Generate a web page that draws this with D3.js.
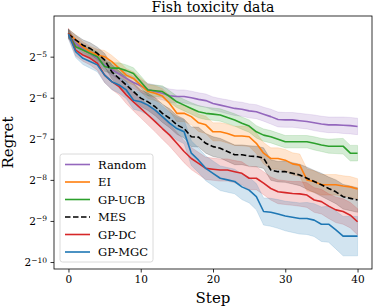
<!doctype html>
<html lang="en">
<head>
	<meta charset="UTF-8">
	<title>Fish toxicity data</title>
	<style>
		body { margin: 0; background: #fff; }
		svg { display: block; }
		text { font-family: "DejaVu Serif", serif; fill: #000; }
		.axis path, .axis line { stroke: #000; stroke-width: 0.8; }
		.axis text { font-size: 10.5px; }
	</style>
</head>
<body>
	<script src="https://cdn.jsdelivr.net/npm/d3@7"></script>
	<script>
		// log2 of regret, steps 0..40
		var steps = d3.range(0, 41);

		var randomVals = [-4.43, -4.68, -4.80, -4.92, -5.04, -5.20, -5.32, -5.42, -5.53, -5.63,
			-5.71, -5.80, -5.85, -5.89, -5.95, -5.97, -5.97, -6.00, -6.04, -6.07,
			-6.14, -6.18, -6.22, -6.26, -6.28, -6.32, -6.34, -6.40, -6.46, -6.53,
			-6.54, -6.54, -6.56, -6.58, -6.61, -6.64, -6.66, -6.66, -6.67, -6.68, -6.70];
		var eiVals = [-4.43, -4.59, -4.76, -4.88, -4.96, -5.00, -5.12, -5.28, -5.45, -5.53,
			-5.69, -5.85, -5.89, -5.96, -6.14, -6.38, -6.38, -6.46, -6.61, -6.66,
			-6.83, -6.83, -6.87, -6.93, -6.93, -6.95, -7.11, -7.35, -7.48, -7.48,
			-7.52, -7.61, -7.64, -8.00, -8.04, -8.12, -8.12, -8.12, -8.15, -8.17, -8.22];
		var ucbVals = [-4.43, -4.76, -4.84, -4.92, -5.00, -5.24, -5.28, -5.28, -5.34, -5.41,
			-5.61, -5.81, -5.83, -5.85, -5.97, -6.10, -6.18, -6.26, -6.34, -6.38,
			-6.40, -6.42, -6.48, -6.54, -6.62, -6.69, -6.83, -6.91, -6.95, -7.01,
			-7.07, -7.07, -7.07, -7.07, -7.11, -7.15, -7.18, -7.18, -7.18, -7.35, -7.35];
		var mesVals = [-4.45, -4.59, -4.72, -4.80, -4.92, -5.08, -5.37, -5.53, -5.69, -5.85,
			-6.01, -6.10, -6.22, -6.38, -6.50, -6.66, -6.75, -6.95, -6.96, -7.11,
			-7.19, -7.23, -7.31, -7.39, -7.39, -7.42, -7.43, -7.47, -7.76, -7.80,
			-7.80, -7.84, -7.88, -7.96, -8.04, -8.12, -8.21, -8.29, -8.41, -8.45, -8.49];
		var dcVals = [-4.43, -4.84, -4.96, -5.04, -5.16, -5.45, -5.61, -5.73, -5.93, -6.10,
			-6.26, -6.42, -6.58, -6.75, -6.91, -7.11, -7.31, -7.48, -7.60, -7.72,
			-7.74, -7.76, -7.76, -7.80, -7.84, -7.96, -7.96, -8.08, -8.21, -8.29,
			-8.31, -8.33, -8.34, -8.37, -8.49, -8.53, -8.64, -8.73, -8.77, -8.86, -9.02];
		var mgcVals = [-4.45, -4.88, -5.04, -5.12, -5.20, -5.45, -5.61, -5.69, -5.81, -6.06,
			-6.10, -6.18, -6.30, -6.46, -6.62, -6.75, -6.83, -7.35, -7.52, -7.72,
			-7.84, -7.96, -8.00, -8.04, -8.17, -8.25, -8.41, -8.77, -8.79, -8.83,
			-8.88, -8.91, -8.94, -8.94, -8.98, -9.08, -9.08, -9.22, -9.37, -9.37, -9.37];

		// half width of the shaded band, in log2 units
		var randomBand = [0.10, 0.10, 0.11, 0.12, 0.12, 0.13, 0.13, 0.14, 0.14, 0.15,
			0.15, 0.15, 0.16, 0.16, 0.16, 0.16, 0.16, 0.16, 0.16, 0.16,
			0.16, 0.16, 0.17, 0.17, 0.17, 0.17, 0.17, 0.17, 0.18, 0.18,
			0.18, 0.18, 0.18, 0.18, 0.19, 0.19, 0.19, 0.19, 0.20, 0.20, 0.20];
		var eiBand = [0.10, 0.11, 0.12, 0.13, 0.14, 0.15, 0.15, 0.16, 0.16, 0.16,
			0.17, 0.17, 0.18, 0.18, 0.19, 0.20, 0.20, 0.20, 0.21, 0.21,
			0.22, 0.22, 0.23, 0.23, 0.24, 0.24, 0.25, 0.26, 0.26, 0.26,
			0.26, 0.27, 0.27, 0.27, 0.26, 0.25, 0.25, 0.25, 0.25, 0.25, 0.25];
		var ucbBand = [0.10, 0.10, 0.11, 0.11, 0.12, 0.12, 0.13, 0.13, 0.14, 0.14,
			0.14, 0.14, 0.14, 0.14, 0.14, 0.14, 0.14, 0.14, 0.15, 0.15,
			0.15, 0.15, 0.15, 0.15, 0.15, 0.15, 0.15, 0.15, 0.15, 0.15,
			0.15, 0.15, 0.15, 0.15, 0.16, 0.16, 0.17, 0.18, 0.19, 0.19, 0.19];
		var mesBand = [0.12, 0.12, 0.13, 0.14, 0.15, 0.16, 0.17, 0.18, 0.19, 0.20,
			0.20, 0.21, 0.22, 0.22, 0.23, 0.23, 0.23, 0.24, 0.24, 0.24,
			0.24, 0.24, 0.24, 0.24, 0.24, 0.25, 0.25, 0.25, 0.25, 0.25,
			0.26, 0.26, 0.26, 0.27, 0.27, 0.28, 0.28, 0.29, 0.30, 0.30, 0.30];
		var dcBand = [0.12, 0.14, 0.15, 0.16, 0.17, 0.18, 0.19, 0.20, 0.21, 0.22,
			0.23, 0.24, 0.25, 0.26, 0.27, 0.27, 0.27, 0.27, 0.27, 0.27,
			0.27, 0.27, 0.27, 0.27, 0.28, 0.28, 0.28, 0.28, 0.28, 0.29,
			0.29, 0.29, 0.30, 0.30, 0.30, 0.30, 0.30, 0.31, 0.31, 0.31, 0.32];
		var mgcBand = [0.12, 0.14, 0.15, 0.16, 0.17, 0.18, 0.19, 0.20, 0.21, 0.22,
			0.23, 0.24, 0.25, 0.26, 0.27, 0.28, 0.29, 0.30, 0.30, 0.30,
			0.30, 0.30, 0.30, 0.30, 0.31, 0.31, 0.32, 0.33, 0.34, 0.35,
			0.36, 0.37, 0.38, 0.39, 0.40, 0.42, 0.44, 0.46, 0.48, 0.48, 0.48];

		var seriesNames = ['Random', 'EI', 'GP-UCB', 'MES', 'GP-DC', 'GP-MGC'];
		var seriesColors = ['#9467bd', '#ff7f0e', '#2ca02c', '#000000', '#d62728', '#1f77b4'];
		var seriesVals = [randomVals, eiVals, ucbVals, mesVals, dcVals, mgcVals];
		var seriesBands = [randomBand, eiBand, ucbBand, mesBand, dcBand, mgcBand];

		var xTicks = [0, 10, 20, 30, 40];
		var yTickExps = [-5, -6, -7, -8, -9, -10];

		var w = 374,
			h = 307,
			plotLeft = 54,
			plotRight = 372,
			plotTop = 16,
			plotBottom = 269;

		var svg = d3.select('body')
			.append('svg')
			.attr('width', w)
			.attr('height', h);

		var xScale = d3.scaleLinear()
			.domain([-2, 42])
			.range([plotLeft, plotRight]);

		var yScale = d3.scaleLog()
			.base(2)
			.domain([Math.pow(2, -10.17), Math.pow(2, -4.01)])
			.range([plotBottom, plotTop]);

		var plot = svg.append('g');

		// bands and lines
		seriesNames.forEach(function(name, k) {
			var vals = seriesVals[k],
				band = seriesBands[k],
				color = seriesColors[k];

			var area = d3.area()
				.x(function(d, i) { return xScale(steps[i]); })
				.y0(function(d, i) { return yScale(Math.pow(2, vals[i] - band[i])); })
				.y1(function(d, i) { return yScale(Math.pow(2, vals[i] + band[i])); });

			plot.append('path')
				.datum(vals)
				.attr('d', area)
				.attr('fill', color)
				.attr('fill-opacity', 0.2)
				.attr('stroke', color)
				.attr('stroke-opacity', 0.2)
				.attr('stroke-width', 0.8);
		});

		seriesNames.forEach(function(name, k) {
			var vals = seriesVals[k];
			var line = d3.line()
				.x(function(d, i) { return xScale(steps[i]); })
				.y(function(d) { return yScale(Math.pow(2, d)); });

			plot.append('path')
				.datum(vals)
				.attr('d', line)
				.attr('fill', 'none')
				.attr('stroke', seriesColors[k])
				.attr('stroke-width', 1.6)
				.attr('stroke-linejoin', 'round')
				.attr('stroke-dasharray', name === 'MES' ? '5.5,2.5' : null);
		});

		// axes
		var xAxis = d3.axisBottom(xScale)
			.tickValues(xTicks)
			.tickSize(3.5)
			.tickPadding(3.5)
			.tickSizeOuter(0);

		svg.append('g')
			.attr('class', 'axis')
			.attr('transform', 'translate(0,' + plotBottom + ')')
			.call(xAxis)
			.select('.domain').remove();

		var yAxis = d3.axisLeft(yScale)
			.tickValues(yTickExps.map(function(e) { return Math.pow(2, e); }))
			.tickSize(3.5)
			.tickSizeOuter(0)
			.tickFormat('');

		var yAxisG = svg.append('g')
			.attr('class', 'axis')
			.attr('transform', 'translate(' + plotLeft + ',0)')
			.call(yAxis);
		yAxisG.select('.domain').remove();

		// y tick labels with superscript exponents
		yAxisG.selectAll('.tick')
			.each(function(d, i) {
				var label = d3.select(this).append('text')
					.attr('x', -7)
					.attr('dy', '0.32em')
					.attr('text-anchor', 'end')
					.style('font-size', '10.5px');
				label.append('tspan').text('2');
				label.append('tspan')
					.attr('dy', '-0.45em')
					.style('font-size', '7.5px')
					.text('\u2212' + Math.abs(yTickExps[i]));
			});

		// frame
		svg.append('rect')
			.attr('x', plotLeft)
			.attr('y', plotTop)
			.attr('width', plotRight - plotLeft)
			.attr('height', plotBottom - plotTop)
			.attr('fill', 'none')
			.attr('stroke', '#000')
			.attr('stroke-width', 0.8);

		// titles
		svg.append('text')
			.attr('x', (plotLeft + plotRight) / 2)
			.attr('y', 12)
			.attr('text-anchor', 'middle')
			.style('font-size', '14px')
			.text('Fish toxicity data');

		svg.append('text')
			.attr('x', (plotLeft + plotRight) / 2)
			.attr('y', 303)
			.attr('text-anchor', 'middle')
			.style('font-size', '15px')
			.text('Step');

		svg.append('text')
			.attr('transform', 'translate(13,' + ((plotTop + plotBottom) / 2) + ') rotate(-90)')
			.attr('text-anchor', 'middle')
			.style('font-size', '15px')
			.text('Regret');

		// legend
		var legend = svg.append('g')
			.attr('transform', 'translate(60,154)');

		legend.append('rect')
			.attr('width', 93)
			.attr('height', 108)
			.attr('rx', 2.5)
			.attr('fill', '#fff')
			.attr('fill-opacity', 0.8)
			.attr('stroke', '#d0d0d0')
			.attr('stroke-width', 0.8);

		var items = legend.selectAll('g.item')
			.data(seriesNames)
			.enter()
			.append('g')
			.attr('class', 'item')
			.attr('transform', function(d, i) {
				return 'translate(0,' + (10.5 + i * 17.5) + ')';
			});

		items.append('line')
			.attr('x1', 5)
			.attr('x2', 30)
			.attr('stroke', function(d, i) { return seriesColors[i]; })
			.attr('stroke-width', 1.6)
			.attr('stroke-dasharray', function(d) { return d === 'MES' ? '5.5,2.5' : null; });

		items.append('text')
			.attr('x', 38)
			.attr('dy', '0.35em')
			.style('font-size', '11.5px')
			.text(function(d) { return d; });
	</script>
</body>
</html>
